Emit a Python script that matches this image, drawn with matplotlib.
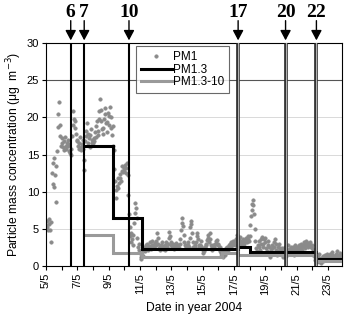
import numpy as np
import matplotlib
matplotlib.use("Agg")
import matplotlib.pyplot as plt
from matplotlib.ticker import MultipleLocator, FixedLocator

plt.rcParams['font.family'] = ['Liberation Sans', 'DejaVu Sans']

# PM1 hourly values, one row per day starting 5/5 00:00
pm1_days = [
    [5.5, 6.0, 5.2, 4.9, 6.3, 5.6, 4.8, 3.3, 5.9, 12.5, 13.8, 11.0, 14.5, 10.6, 12.2, 8.6, 13.4, 15.5, 18.7, 20.5, 22.1, 19.0, 17.5, 16.2],
    [16.5, 17.2, 16.0, 15.6, 16.8, 17.4, 16.2, 15.8, 16.6, 17.0, 16.1, 15.5, 16.4, 15.2, 14.9, 15.8, 17.5, 19.0, 20.8, 19.8, 18.5, 19.5, 17.8, 17.0],
    [16.8, 16.2, 15.8, 16.5, 17.3, 16.0, 15.6, 16.4, 17.0, 15.8, 14.3, 12.9, 16.8, 17.5, 18.2, 19.2, 17.8, 16.5, 17.2, 16.0, 17.6, 18.4, 17.0, 16.6],
    [16.5, 17.2, 16.8, 18.0, 17.4, 18.8, 19.5, 18.2, 17.6, 19.8, 20.8, 22.5, 21.0, 19.5, 18.4, 17.8, 18.6, 19.8, 20.5, 21.2, 19.2, 18.0, 19.4, 20.6],
    [20.2, 19.0, 21.4, 18.5, 20.0, 17.6, 18.8, 16.2, 15.6, 13.0, 11.5, 10.2, 9.2, 10.8, 11.8, 10.5, 11.2, 11.8, 12.4, 11.5, 12.8, 13.4, 12.6, 13.2],
    [12.8, 13.6, 12.5, 13.2, 13.9, 12.2, 9.5, 7.0, 5.2, 4.0, 3.2, 4.5, 3.6, 2.8, 4.2, 5.8, 7.2, 8.5, 7.8, 6.4, 3.8, 2.6, 3.0, 2.2],
    [1.8, 1.2, 0.9, 1.5, 2.0, 1.4, 2.2, 2.6, 2.0, 2.8, 2.4, 3.0, 2.5, 2.2, 2.7, 3.2, 2.6, 2.3, 2.9, 3.4, 2.8, 2.4, 2.6, 3.1],
    [2.8, 3.4, 4.4, 3.8, 3.0, 2.4, 2.6, 2.2, 2.8, 2.5, 3.2, 2.7, 2.3, 2.6, 2.2, 2.9, 3.3, 2.6, 2.4, 3.0, 3.8, 4.6, 4.0, 3.2],
    [2.8, 2.5, 3.0, 2.6, 2.3, 2.8, 2.5, 3.1, 2.7, 2.4, 2.9, 2.6, 2.4, 3.0, 3.6, 4.8, 5.8, 6.5, 5.4, 4.2, 3.2, 2.8, 2.5, 2.9],
    [2.6, 2.8, 3.2, 2.5, 3.8, 5.2, 6.0, 5.6, 4.4, 3.2, 2.6, 2.4, 2.9, 2.5, 3.2, 4.0, 4.4, 3.6, 2.8, 2.5, 2.8, 3.4, 2.7, 2.4],
    [2.2, 1.7, 2.0, 2.6, 2.4, 3.0, 2.8, 3.5, 4.2, 3.8, 3.2, 4.4, 3.6, 2.8, 2.5, 2.2, 2.9, 2.6, 2.4, 3.0, 3.4, 3.0, 3.5, 2.8],
    [3.0, 2.4, 2.0, 2.6, 1.8, 1.4, 1.9, 1.2, 1.6, 2.2, 1.5, 1.9, 2.4, 2.0, 2.6, 2.2, 2.8, 2.4, 3.0, 2.6, 3.2, 2.8, 3.4, 3.0],
    [3.0, 3.4, 2.8, 3.6, 4.2, 3.8, 3.2, 3.0, 3.5, 3.9, 3.4, 3.0, 2.8, 3.3, 3.6, 3.2, 3.0, 3.4, 3.8, 3.5, 3.2, 3.6, 4.0, 3.4],
    [4.0, 5.5, 6.8, 7.6, 8.4, 8.9, 8.2, 7.0, 5.0, 3.4, 2.4, 1.7, 2.0, 2.8, 3.4, 2.6, 2.2, 3.0, 3.6, 3.9, 3.0, 2.5, 3.6, 3.8],
    [3.2, 2.4, 1.6, 2.0, 2.8, 3.4, 2.6, 1.8, 1.2, 2.2, 2.9, 2.4, 1.8, 2.6, 3.2, 3.7, 3.0, 2.2, 1.5, 2.0, 2.6, 3.0, 2.4, 1.9],
    [2.2, 1.6, 2.4, 1.8, 1.2, 2.0, 2.6, 1.7, 1.4, 2.2, 1.9, 2.8, 2.3, 1.6, 2.0, 2.5, 1.8, 2.2, 2.6, 2.0, 1.5, 2.3, 2.8, 2.4],
    [2.2, 2.6, 2.0, 2.4, 2.8, 2.2, 2.6, 3.0, 2.5, 2.2, 2.8, 3.2, 2.7, 2.4, 3.0, 3.4, 2.9, 2.6, 3.1, 2.8, 3.3, 2.9, 2.5, 2.8],
    [2.4, 2.0, 1.5, 2.2, 1.2, 0.8, 1.4, 1.0, 0.6, 1.2, 1.6, 0.9, 0.5, 1.1, 0.4, 0.8, 1.3, 0.7, 1.0, 1.5, 0.9, 1.2, 1.6, 1.1],
    [1.0, 1.4, 0.8, 1.2, 1.6, 1.1, 1.5, 1.9, 1.4, 1.0, 1.3, 0.8, 1.2, 1.6, 2.0, 1.5, 1.1, 1.4, 1.8, 1.3, 1.0, 1.5],
]

# step series (days since 5/5 00:00)
pm13_edges = [2.44, 4.3, 6.1, 12.27, 13.05, 17.27, 18.9]
pm13_vals = [16.2, 6.4, 2.3, 2.6, 1.9, 1.0]
pm1310_edges = [2.44, 4.3, 6.1, 11.23, 12.27, 17.27, 18.9]
pm1310_vals = [4.2, 1.8, 1.2, 1.8, 1.5, 0.7]

# events (day number, time in days since 5/5)
event_labels = ['6', '7', '10', '17', '20', '22']
event_times = [1.58, 2.44, 5.30, 12.27, 15.30, 17.27]
event_double = [False, False, False, True, True, True]

date_labels = ['5/5', '7/5', '9/5', '11/5', '13/5', '15/5', '17/5', '19/5', '21/5', '23/5']

pm1 = np.concatenate([np.array(d) for d in pm1_days])
t_pm1 = np.arange(len(pm1)) / 24.0

fig = plt.figure(figsize=(3.44, 3.16), dpi=100)
ax = fig.add_axes([0.1337, 0.158, 0.8603, 0.706])

for y in [5, 10, 15, 20]:
    ax.axhline(y, color='#d9d9d9', lw=0.7, zorder=0)
ax.axhline(25, color='#555555', lw=0.8, zorder=0.5)

ax.plot(t_pm1, pm1, 'o', ms=2.6, color='#8a8a8a', mec='#8a8a8a', mew=0.3, label='PM1', zorder=2)

ax.stairs(pm13_vals, pm13_edges, color='black', lw=2.2, baseline=None, label='PM1.3', zorder=3)
ax.stairs(pm1310_vals, pm1310_edges, color='#9a9a9a', lw=2.2, baseline=None, label='PM1.3-10', zorder=3)

for lab, t, dbl in zip(event_labels, event_times, event_double):
    if dbl:
        ax.axvline(t, color='#222222', lw=2.6, zorder=4)
        ax.axvline(t, color='#b0b0b0', lw=0.9, zorder=4.1)
    else:
        ax.axvline(t, color='black', lw=1.5, zorder=4)
    ax.annotate('', xy=(t, 30.35), xytext=(t, 33.0), annotation_clip=False,
                arrowprops=dict(arrowstyle='-|>,head_length=0.6,head_width=0.32',
                                color='black', lw=1.0, shrinkA=0, shrinkB=0))
    ax.text(t, 34.1, lab, ha='center', va='center', fontsize=14, fontweight='bold',
            family=['Liberation Serif', 'DejaVu Serif'], clip_on=False)

ax.set_xlim(0, 18.9)
ax.set_ylim(0, 30)
ax.xaxis.set_major_locator(FixedLocator(np.arange(0, 19, 2)))
ax.xaxis.set_minor_locator(MultipleLocator(1))
ax.set_xticklabels(date_labels, rotation=90)
ax.yaxis.set_major_locator(MultipleLocator(5))
ax.tick_params(axis='both', which='both', direction='out', length=3, width=0.8, labelsize=8, pad=2)

for s in ax.spines.values():
    s.set_linewidth(0.8)

ax.set_ylabel('Particle mass concentration (\u03bcg  m$^{-3}$)', fontsize=8.7, labelpad=2)
ax.set_xlabel('Date in year 2004', fontsize=8.7, labelpad=5)

leg = ax.legend(loc='upper left', bbox_to_anchor=(0.305, 0.985), fontsize=8.5,
                frameon=True, fancybox=False, handlelength=2.6, handletextpad=0.1,
                labelspacing=0.05, borderpad=0.4, borderaxespad=0.0, markerscale=1.0)
leg.get_frame().set_edgecolor('#444444')
leg.get_frame().set_linewidth(0.8)
leg.set_zorder(5)

fig.savefig('out.png', dpi=100)
